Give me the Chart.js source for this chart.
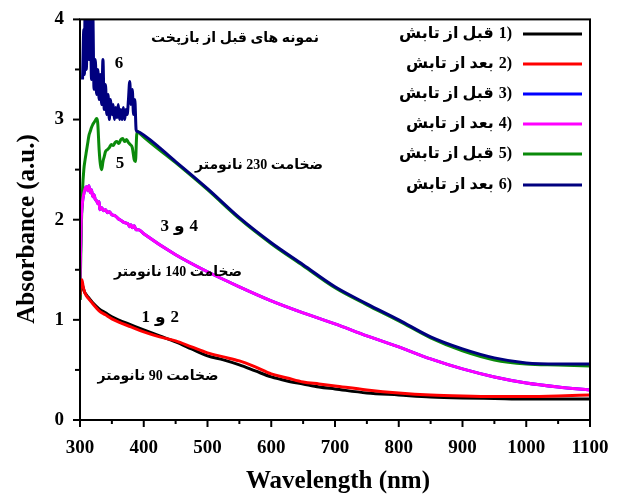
<!DOCTYPE html>
<html>
<head>
<meta charset="utf-8">
<script src="https://cdn.jsdelivr.net/npm/chart.js@4.4.1/dist/chart.umd.min.js"></script>
<style>
  html, body { margin: 0; padding: 0; background: #fff; }
  #wrap { width: 622px; height: 498px; }
</style>
</head>
<body>
<div id="wrap"><canvas id="absChart" width="622" height="498"></canvas></div>
<script>
// Absorbance spectra, 90 / 140 / 230 nm films, before and after irradiation
const xTicks = [300, 400, 500, 600, 700, 800, 900, 1000, 1100];
const yTicks = [0, 1, 2, 3, 4];

// 1) and 2): 90 nm film
const wl1 = [300, 301, 303, 305, 307, 310, 315, 320, 330, 340, 350, 360, 380, 400, 425, 450, 475, 500, 525, 550, 575, 600, 625, 650, 675, 700, 750, 800, 850, 900, 950, 1000, 1050, 1100];
const abs1 = [1.20, 1.30, 1.36, 1.32, 1.28, 1.25, 1.21, 1.17, 1.11, 1.07, 1.03, 1.00, 0.95, 0.90, 0.84, 0.78, 0.71, 0.64, 0.60, 0.55, 0.49, 0.43, 0.39, 0.36, 0.33, 0.31, 0.27, 0.25, 0.23, 0.22, 0.215, 0.21, 0.21, 0.21];
const wl2 = wl1;
const abs2 = [1.25, 1.36, 1.40, 1.33, 1.28, 1.24, 1.20, 1.16, 1.09, 1.05, 1.01, 0.98, 0.93, 0.88, 0.83, 0.79, 0.73, 0.67, 0.63, 0.59, 0.53, 0.46, 0.42, 0.38, 0.36, 0.34, 0.30, 0.27, 0.25, 0.24, 0.235, 0.235, 0.24, 0.25];

// 3) and 4): 140 nm film
const wl4 = [300, 302, 304, 306, 308, 310, 312, 314, 316, 318, 320, 322, 324, 326, 328, 330, 331, 334, 337, 340, 343, 346, 350, 355, 360, 365, 370, 375, 378, 380, 382, 385, 388, 392, 400, 450, 500, 550, 600, 650, 700, 750, 800, 850, 900, 950, 1000, 1050, 1100];
const abs4 = [1.40, 2.00, 2.18, 2.26, 2.31, 2.33, 2.29, 2.34, 2.27, 2.30, 2.23, 2.25, 2.20, 2.19, 2.16, 2.18, 2.10, 2.12, 2.09, 2.10, 2.07, 2.08, 2.05, 2.04, 2.01, 1.99, 1.97, 1.96, 1.93, 1.95, 1.92, 1.94, 1.90, 1.90, 1.86, 1.65, 1.48, 1.33, 1.19, 1.07, 0.96, 0.84, 0.73, 0.61, 0.51, 0.43, 0.37, 0.33, 0.30];
const wl3 = wl4;
const abs3 = abs4;

// 5) and 6): 230 nm film
const wl5 = [300, 302, 304, 306, 308, 310, 312, 314, 316, 318, 320, 322, 324, 326, 327, 328, 330, 332, 334, 336, 338, 340, 343, 346, 349, 352, 355, 358, 361, 364, 367, 370, 373, 376, 379, 382, 385, 387, 389, 391, 394, 450, 500, 550, 600, 650, 700, 750, 800, 850, 900, 950, 1000, 1050, 1100];
const abs5 = [1.20, 1.90, 2.30, 2.50, 2.60, 2.68, 2.76, 2.84, 2.88, 2.92, 2.95, 2.97, 2.99, 3.01, 3.00, 2.95, 2.70, 2.55, 2.50, 2.58, 2.63, 2.68, 2.70, 2.72, 2.75, 2.74, 2.77, 2.78, 2.76, 2.80, 2.81, 2.78, 2.80, 2.77, 2.75, 2.72, 2.60, 2.58, 2.85, 2.88, 2.86, 2.57, 2.30, 2.01, 1.76, 1.54, 1.32, 1.15, 0.99, 0.82, 0.69, 0.60, 0.56, 0.55, 0.54];
const wl6 = [304, 306, 307, 308, 310, 312, 314, 316, 318, 320, 322, 324, 326, 328, 330, 332, 334, 336, 338, 340, 342, 344, 346, 348, 350, 352, 354, 356, 358, 360, 362, 364, 366, 368, 370, 372, 374, 376, 378, 380, 382, 384, 386, 388, 390, 394, 450, 500, 550, 600, 650, 700, 750, 800, 850, 900, 950, 1000, 1050, 1100];
const abs6 = [3.40, 3.90, 3.45, 4.20, 3.50, 4.30, 3.60, 4.30, 3.40, 4.10, 3.30, 3.60, 3.25, 3.50, 3.20, 3.45, 3.15, 3.60, 3.10, 3.35, 3.05, 3.25, 3.00, 3.20, 3.05, 3.15, 3.00, 3.12, 3.02, 3.15, 3.00, 3.10, 3.00, 3.12, 3.00, 3.10, 3.05, 3.20, 3.38, 3.15, 3.30, 3.05, 3.20, 2.90, 2.88, 2.87, 2.58, 2.31, 2.02, 1.77, 1.55, 1.33, 1.16, 1.00, 0.83, 0.71, 0.62, 0.57, 0.56, 0.56];

const seriesNums = ['1', '2', '3', '4', '5', '6'];
const seriesNames = ['قبل از تابش', 'بعد از تابش', 'قبل از تابش', 'بعد از تابش', 'قبل از تابش', 'بعد از تابش'];
const seriesColors = ['#000000', '#ff0000', '#0000ff', '#ff00ff', '#0a8a0a', '#00007f'];

const FONT = '"Liberation Serif", "DejaVu Sans", serif';

function toPoints(xs, ys) {
    return xs.map((x, i) => ({ x: x, y: ys[i] }));
}

const seriesData = [
    toPoints(wl1, abs1), toPoints(wl2, abs2), toPoints(wl3, abs3),
    toPoints(wl4, abs4), toPoints(wl5, abs5), toPoints(wl6, abs6)
];
// lower order = drawn on top
const drawOrder = [6, 1, 5, 2, 4, 3];

// draw pieces right to left, each one right-aligned, so bidi never reorders them
function drawPiecesRTL(ctx, pieces, rightX, y, gap) {
    let x = rightX;
    ctx.textAlign = 'right';
    pieces.forEach(p => {
        ctx.fillText(p, x, y);
        x -= ctx.measureText(p).width + gap;
    });
}

// ✅ Ticks, frame, labels and legend drawn on top of the plot
const decorPlugin = {
    id: 'decor',
    afterDraw(chart) {
        const ctx = chart.ctx;
        const xs = chart.scales.x, ys = chart.scales.y;
        const a = chart.chartArea;
        ctx.save();
        ctx.strokeStyle = '#000';
        ctx.fillStyle = '#000';

        // frame
        ctx.lineWidth = 2;
        ctx.strokeRect(a.left, a.top, a.right - a.left, a.bottom - a.top);

        // x ticks, major every 100, minor every 50
        for (let v = 300; v <= 1100; v += 50) {
            const px = xs.getPixelForValue(v);
            const len = v % 100 === 0 ? 7 : 4;
            ctx.beginPath();
            ctx.moveTo(px, a.bottom);
            ctx.lineTo(px, a.bottom + len);
            ctx.stroke();
        }
        // y ticks, major every 1, minor every 0.5
        for (let v = 0; v <= 4; v += 0.5) {
            const py = ys.getPixelForValue(v);
            const len = Number.isInteger(v) ? 7 : 5;
            ctx.beginPath();
            ctx.moveTo(a.left, py);
            ctx.lineTo(a.left - len, py);
            ctx.stroke();
        }

        // axis titles
        ctx.font = 'bold 25px ' + FONT;
        ctx.textAlign = 'center';
        ctx.textBaseline = 'middle';
        ctx.fillText('Wavelength (nm)', 338, 482);
        ctx.save();
        ctx.translate(28, 229);
        ctx.rotate(-Math.PI / 2);
        ctx.fillText('Absorbance (a.u.)', 0, 0);
        ctx.restore();

        // curve labels
        ctx.font = 'bold 14px ' + FONT;
        ctx.direction = 'rtl';
        ctx.fillText('نمونه های قبل از بازپخت', 235, 38);
        ctx.fillText('ضخامت 230 نانومتر', 259, 165);
        ctx.fillText('ضخامت 140 نانومتر', 178, 272);
        ctx.fillText('ضخامت 90 نانومتر', 158, 376);
        ctx.direction = 'ltr';
        ctx.font = 'bold 17px ' + FONT;
        ctx.fillText('6', 119, 64);
        ctx.fillText('5', 120, 164);
        drawPiecesRTL(ctx, ['4', 'و', '3'], 198, 227, 5);
        drawPiecesRTL(ctx, ['2', 'و', '1'], 179, 318, 5);

        // legend: line on the right, "n)" then the text to its left
        const rowY = [34, 64, 94, 124, 154, 185];
        ctx.font = 'bold 16px ' + FONT;
        ctx.lineWidth = 3;
        for (let i = 0; i < seriesNums.length; i++) {
            const y = rowY[i];
            ctx.strokeStyle = seriesColors[i];
            ctx.beginPath();
            ctx.moveTo(523, y);
            ctx.lineTo(582, y);
            ctx.stroke();
            ctx.direction = 'ltr';
            drawPiecesRTL(ctx, [')', seriesNums[i]], 512, y, 0);
            const numW = ctx.measureText(seriesNums[i] + ')').width;
            ctx.direction = 'rtl';
            ctx.textAlign = 'right';
            ctx.fillText(seriesNames[i], 512 - numW - 5, y);
        }
        ctx.restore();
    }
};

const ctx = document.getElementById('absChart').getContext('2d');
window.absChartInstance = new Chart(ctx, {
    type: 'line',
    data: {
        datasets: seriesData.map((pts, i) => ({
            label: seriesNums[i] + ') ' + seriesNames[i],
            data: pts,
            borderColor: seriesColors[i],
            borderWidth: 3,
            pointRadius: 0,
            fill: false,
            cubicInterpolationMode: 'monotone',
            order: drawOrder[i]
        }))
    },
    options: {
        responsive: false,
        animation: false,
        events: [],
        layout: { padding: { left: 0, top: 15, right: 32, bottom: 0 } },
        plugins: {
            legend: { display: false },
            tooltip: { enabled: false }
        },
        scales: {
            x: {
                type: 'linear',
                min: 300,
                max: 1100,
                grid: { display: false },
                border: { display: false },
                afterBuildTicks: (s) => { s.ticks = xTicks.map(v => ({ value: v })); },
                afterFit: (s) => { s.height = 78; },
                ticks: {
                    color: '#000',
                    padding: 9,
                    maxRotation: 0,
                    callback: (v) => String(v),
                    font: { family: FONT, size: 19, weight: 'bold' }
                }
            },
            y: {
                min: 0,
                max: 4,
                grid: { display: false },
                border: { display: false },
                afterBuildTicks: (s) => { s.ticks = yTicks.map(v => ({ value: v })); },
                afterFit: (s) => { s.width = 80; },
                ticks: {
                    color: '#000',
                    padding: 8,
                    callback: (v) => String(v),
                    font: { family: FONT, size: 19, weight: 'bold' }
                }
            }
        }
    },
    plugins: [decorPlugin]
});
</script>
</body>
</html>
